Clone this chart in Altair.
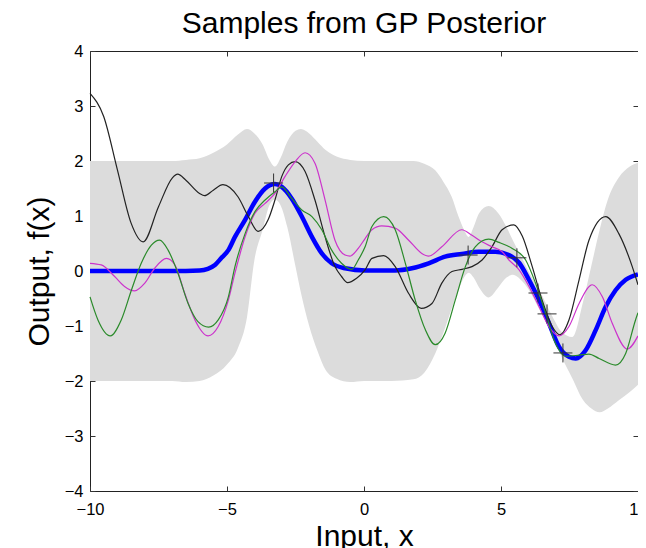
import altair as alt
import pandas as pd

# ---- data ----
band_x = [-10, -9, -8, -7, -6.5, -6, -5.5, -5, -4.6, -4.27, -4.0, -3.7, -3.45, -3.25, -3.05, -2.8,
          -2.5, -2.3, -2.0, -1.7, -1.4, -1.0, -0.5, 0, 1, 1.8, 2.2, 2.6, 2.9, 3.2, 3.45, 3.65,
          3.82, 4.0, 4.2, 4.55, 4.9, 5.2, 5.44, 5.7, 6.0, 6.4, 6.9, 7.2, 7.6, 8.0, 8.3, 8.6,
          8.9, 9.3, 9.7, 10]
band_upper = [2.0, 2.0, 2.0, 2.0, 2.02, 2.05, 2.15, 2.3, 2.48, 2.58, 2.5, 2.3, 2.02, 1.9, 2.05, 2.35,
              2.55, 2.58, 2.5, 2.35, 2.2, 2.08, 2.02, 2.0, 2.0, 2.0, 1.95, 1.83, 1.62, 1.35, 0.99, 0.75,
              0.62, 0.8, 1.05, 1.18, 1.05, 0.8, 0.55, 0.3, 0.0, -0.35, -0.85, -1.1, -1.2, -0.55, 0.1, 0.75,
              1.3, 1.7, 1.9, 1.97]
band_lower = [-2.0, -2.0, -2.0, -2.0, -2.02, -2.0, -1.9, -1.7, -1.4, -0.84, 0.2, 0.75, 1.2, 1.3, 1.2, 0.8,
              0.08, -0.4, -1.0, -1.45, -1.8, -1.96, -2.02, -2.0, -2.0, -1.97, -1.85, -1.5, -1.12, -0.68, -0.35, -0.12,
              -0.03, -0.12, -0.3, -0.48, -0.3, -0.12, -0.07, -0.15, -0.33, -0.7, -1.2, -1.55, -1.95, -2.35, -2.5, -2.57,
              -2.5, -2.35, -2.2, -2.07]

mean_x = [-10, -7, -6.0, -5.7, -5.44, -5.2, -4.95, -4.71, -4.34, -3.98, -3.61, -3.25, -3.0, -2.64, -2.27,
          -1.9, -1.54, -1.18, -0.69, 0.04, 1.14, 1.75, 2.36, 2.96, 3.57, 4.18, 4.79, 5.29, 5.66, 6.02,
          6.39, 6.75, 7.12, 7.48, 7.73, 8.09, 8.46, 8.82, 9.18, 9.55, 10.0]
mean_y = [0.0, 0.0, 0.01, 0.04, 0.11, 0.24, 0.38, 0.62, 0.93, 1.26, 1.50, 1.58, 1.53, 1.32, 0.99,
          0.62, 0.32, 0.14, 0.05, 0.01, 0.01, 0.05, 0.14, 0.26, 0.31, 0.35, 0.35, 0.29, 0.15, -0.16,
          -0.53, -0.95, -1.38, -1.56, -1.59, -1.44, -1.07, -0.65, -0.35, -0.16, -0.06]

black_x = [-10, -9.5, -9.0, -8.5, -8.06, -7.5, -7.0, -6.8, -6.5, -6.0, -5.82, -5.5, -5.15, -4.6, -4.22,
           -3.86, -3.5, -3.25, -3.0, -2.76, -2.51, -2.15, -1.79, -1.42, -1.06, -0.82, -0.6, -0.27, 0.04,
           0.29, 0.72, 1.14, 1.63, 2.09, 2.48, 2.84, 3.21, 3.58, 3.94, 4.31, 4.67, 5.04, 5.47, 5.78,
           6.14, 6.5, 6.87, 7.15, 7.48, 7.85, 8.21, 8.82, 9.3, 9.79, 10.0]
black_y = [3.23, 2.81, 1.84, 0.87, 0.53, 1.17, 1.69, 1.76, 1.65, 1.41, 1.37, 1.47, 1.57, 1.35, 0.99,
           0.72, 0.93, 1.29, 1.72, 1.93, 1.99, 1.81, 1.29, 0.62, 0.08, -0.10, -0.21, -0.13, 0.02,
           0.23, 0.28, 0.08, -0.41, -0.68, -0.59, -0.22, -0.01, 0.03, 0.08, 0.20, 0.44, 0.75, 0.84, 0.63,
           0.08, -0.53, -1.01, -1.16, -0.89, -0.16, 0.56, 0.99, 0.68, 0.08, -0.25]

magenta_x = [-10, -9.59, -9.1, -8.74, -8.37, -8.0, -7.64, -7.21, -6.9, -6.54, -6.17, -5.69, -5.32, -4.95,
             -4.71, -4.34, -3.98, -3.61, -3.25, -2.88, -2.51, -2.15, -1.79, -1.42, -1.06, -0.69, -0.51,
             -0.21, 0.04, 0.29, 0.65, 1.14, 1.63, 2.11, 2.36, 2.84, 3.57, 3.94, 4.31, 4.67, 5.04, 5.29,
             5.66, 6.02, 6.39, 6.75, 7.12, 7.48, 7.85, 8.33, 8.7, 9.06, 9.61, 10.0]
magenta_y = [0.14, 0.11, -0.10, -0.28, -0.36, -0.22, 0.05, 0.23, 0.11, -0.41, -0.89, -1.18, -1.01, -0.53,
             -0.04, 0.62, 1.05, 1.23, 1.41, 1.72, 1.99, 2.15, 1.96, 1.29, 0.56, 0.29, 0.27,
             0.41, 0.59, 0.75, 0.82, 0.78, 0.56, 0.32, 0.27, 0.44, 0.75, 0.65, 0.53, 0.44, 0.35, 0.20,
             0.02, -0.28, -0.65, -1.01, -1.18, -1.01, -0.59, -0.25, -0.47, -0.95, -1.42, -1.18]

green_x = [-10, -9.71, -9.26, -8.86, -8.49, -8.13, -7.76, -7.46, -7.15, -6.79, -6.42, -6.06, -5.67, -5.32,
           -4.95, -4.71, -4.34, -3.98, -3.61, -3.25, -3.0, -2.64, -2.27, -1.9, -1.54, -1.18, -0.82, -0.45,
           -0.21, 0.04, 0.29, 0.72, 1.14, 1.51, 1.87, 2.24, 2.6, 2.96, 3.33, 3.7, 4.06, 4.55, 4.93, 5.41,
           5.9, 6.26, 6.63, 6.99, 7.36, 7.85, 8.21, 8.58, 9.18, 9.55, 9.91, 10.0]
green_y = [-0.47, -0.89, -1.18, -0.89, -0.35, 0.14, 0.47, 0.56, 0.38, -0.04, -0.59, -0.92, -1.02, -0.89,
           -0.47, 0.08, 0.68, 1.08, 1.29, 1.44, 1.53, 1.32, 1.11, 0.99, 0.75, 0.38, 0.14, 0.03,
           0.20, 0.44, 0.81, 0.99, 0.75, 0.14, -0.53, -1.07, -1.34, -1.13, -0.53, 0.08, 0.44, 0.58, 0.52, 0.41,
           0.20, -0.22, -0.77, -1.32, -1.55, -1.53, -1.51, -1.59, -1.71, -1.50, -0.89, -0.76]

train_x = [-3.3, 3.8, 5.58, 6.35, 6.68, 7.26]
train_y = [1.6, 0.29, 0.24, -0.4, -0.78, -1.49]

x_ticks = [-10, -5, 0, 5, 10]
y_ticks = [-4, -3, -2, -1, 0, 1, 2, 3, 4]

FONT = "Liberation Sans"

band_df = pd.DataFrame({"x": band_x, "lo": band_lower, "hi": band_upper})
xs = alt.Scale(domain=[-10, 10], nice=False, zero=False)
ys = alt.Scale(domain=[-4, 4], nice=False, zero=False)

axis_common = dict(domain=False, ticks=True, tickSize=5, offset=-5, tickColor="#333",
                   tickWidth=1, grid=False, labelFont=FONT, labelFontSize=16.5,
                   labelColor="#000", titleFont=FONT, titleFontSize=30,
                   titleFontWeight="normal", titleColor="#000",
                   labelFlush=False, labelOverlap=False, labelBound=False)

band = alt.Chart(band_df).mark_area(color="#dcdcdc", interpolate="monotone").encode(
    x=alt.X("x:Q", scale=xs,
            axis=alt.Axis(orient="bottom", values=x_ticks, title="Input, x",
                          labelPadding=10, titlePadding=4, **axis_common)),
    y=alt.Y("lo:Q", scale=ys,
            axis=alt.Axis(orient="left", values=y_ticks, title="Output, f(x)",
                          labelPadding=7, titlePadding=10, **axis_common)),
    y2="hi:Q",
)


def line(xv, yv, color, width):
    df = pd.DataFrame({"x": xv, "y": yv})
    return alt.Chart(df).mark_line(color=color, strokeWidth=width, interpolate="monotone").encode(
        x=alt.X("x:Q", scale=xs, axis=None),
        y=alt.Y("y:Q", scale=ys, axis=None),
    )


mean_line = line(mean_x, mean_y, "#0000ff", 4.5)
black_line = line(black_x, black_y, "#222222", 1.2)
magenta_line = line(magenta_x, magenta_y, "#cc33cc", 1.2)
green_line = line(green_x, green_y, "#2a8a2a", 1.2)

train_df = pd.DataFrame({"x": train_x, "y": train_y})
crosses = alt.Chart(train_df).mark_point(
    shape="M-1,0L1,0M0,-1L0,1", size=361, filled=False, stroke="#333333", strokeWidth=1, opacity=1
).encode(
    x=alt.X("x:Q", scale=xs,
            axis=alt.Axis(orient="top", values=x_ticks, labels=False, title=None, **axis_common)),
    y=alt.Y("y:Q", scale=ys,
            axis=alt.Axis(orient="right", values=y_ticks, labels=False, title=None, **axis_common)),
)

chart = alt.layer(band, mean_line, black_line, magenta_line, green_line, crosses).resolve_axis(
    x="independent", y="independent"
).properties(
    width=548, height=440,
    title=alt.TitleParams("Samples from GP Posterior", font=FONT, fontSize=30,
                          fontWeight="normal", color="#000", offset=4),
    autosize=alt.AutoSizeParams(type="none"),
    padding={"left": 82, "top": 43, "right": 0, "bottom": 57},
).configure_view(stroke="#222", strokeWidth=1)

chart.save("out.html", embed_options={"renderer": "svg", "actions": False})
